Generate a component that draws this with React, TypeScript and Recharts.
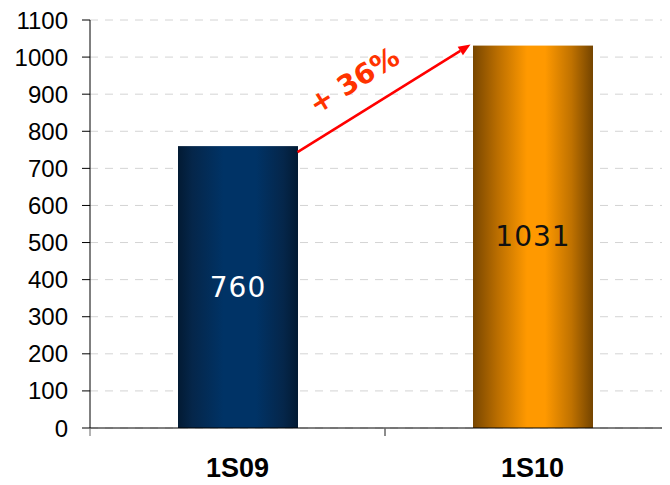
import React from 'react';
import {
  BarChart,
  Bar,
  XAxis,
  YAxis,
  CartesianGrid,
  LabelList,
  ReferenceLine,
} from 'recharts';

const categories = ['1S09', '1S10'];
const values = [760, 1031];
const yTicks = [0, 100, 200, 300, 400, 500, 600, 700, 800, 900, 1000, 1100];
const growthLabel = '+ 36%';

const data = categories.map((name, i) => ({name, value: values[i]}));

const barFills = ['url(#blueBar)', 'url(#orangeBar)'];
const labelFills = ['#ffffff', '#111111'];

const X_TICK_GAP = 32;

const BarShape = (props: any) => {
  const {x, y, width, height, index} = props;
  return <rect x={x} y={y} width={width} height={height} fill={barFills[index]} />;
};

const ValueLabel = (props: any) => {
  const {x, y, width, height, value, index} = props;
  return (
    <text
      x={x + width / 2}
      y={y + height / 2}
      textAnchor="middle"
      dominantBaseline="central"
      fill={labelFills[index]}
      fontSize={28}
      fontFamily="DejaVu Sans"
      style={{letterSpacing: 1}}
    >
      {value}
    </text>
  );
};

// category label plus tick marks on the band edges
const CategoryTick = (props: any) => {
  const {x, y, payload} = props;
  const half = payload && payload.offset ? payload.offset : 0;
  const axisY = y - X_TICK_GAP;
  return (
    <g>
      {half > 0 && (
        <>
          <line x1={x - half} y1={axisY} x2={x - half} y2={axisY + 8} stroke="#666" />
          <line x1={x + half} y1={axisY} x2={x + half} y2={axisY + 8} stroke="#666" />
        </>
      )}
      <text
        x={x}
        y={axisY + 49}
        textAnchor="middle"
        fill="#000"
        fontSize={27}
        fontWeight="bold"
        fontFamily="Liberation Sans"
      >
        {payload.value}
      </text>
    </g>
  );
};

// arrow drawn between the two bar tops, shifted to the bar edges
const GrowthArrow = (props: any) => {
  const {x1, y1, x2, y2} = props;
  if (x1 == null || x2 == null) return null;
  const sx = x1 + 60;
  const sy = y1 + 6;
  const ex = x2 - 62;
  const ey = y2 - 1;
  const ang = Math.atan2(ey - sy, ex - sx);
  const deg = (ang * 180) / Math.PI;
  const dx = Math.cos(ang);
  const dy = Math.sin(ang);
  const head = 12;
  const hw = 5;
  const bx = ex - dx * head;
  const by = ey - dy * head;
  const mx = (sx + ex) / 2;
  const my = (sy + ey) / 2;
  const tx = mx + dy * 31 - dx * 16;
  const ty = my - dx * 31 - dy * 16;
  return (
    <g>
      <line x1={sx} y1={sy} x2={bx} y2={by} stroke="#ff0000" strokeWidth={2.5} />
      <polygon
        points={`${ex},${ey} ${bx - dy * hw},${by + dx * hw} ${bx + dy * hw},${by - dx * hw}`}
        fill="#ff0000"
      />
      <text
        x={tx}
        y={ty}
        textAnchor="middle"
        dominantBaseline="central"
        fill="#ff3300"
        fontSize={28}
        fontWeight="bold"
        fontFamily="DejaVu Sans"
        transform={`rotate(${deg}, ${tx}, ${ty})`}
      >
        {growthLabel}
      </text>
    </g>
  );
};

export default function App() {
  return (
    <div style={{margin: -8, width: 670, height: 485, overflow: 'hidden', background: '#fff'}}>
      <BarChart
        width={690}
        height={485}
        data={data}
        margin={{top: 20, right: 10, left: 0, bottom: 0}}
      >
        <defs>
          <linearGradient id="blueBar" x1="0" y1="0" x2="1" y2="0">
            <stop offset="0%" stopColor="#021a33" />
            <stop offset="12%" stopColor="#05264a" />
            <stop offset="38%" stopColor="#003366" />
            <stop offset="65%" stopColor="#003366" />
            <stop offset="88%" stopColor="#05264a" />
            <stop offset="100%" stopColor="#021a33" />
          </linearGradient>
          <linearGradient id="orangeBar" x1="0" y1="0" x2="1" y2="0">
            <stop offset="0%" stopColor="#784600" />
            <stop offset="20%" stopColor="#b96d00" />
            <stop offset="45%" stopColor="#ff9900" />
            <stop offset="60%" stopColor="#ff9900" />
            <stop offset="82%" stopColor="#c07200" />
            <stop offset="100%" stopColor="#744400" />
          </linearGradient>
        </defs>
        <CartesianGrid vertical={false} stroke="#d4d4d4" strokeDasharray="8 7" />
        <XAxis
          dataKey="name"
          type="category"
          axisLine={{stroke: '#000'}}
          tickLine={false}
          tickSize={0}
          tickMargin={X_TICK_GAP}
          height={57}
          tick={CategoryTick}
        />
        <YAxis
          domain={[0, 1100]}
          ticks={yTicks}
          width={90}
          interval={0}
          axisLine={{stroke: '#000'}}
          tickLine={{stroke: '#000'}}
          tickSize={8}
          tickMargin={14}
          tick={{fill: '#000', fontSize: 24, fontFamily: 'Liberation Sans'}}
        />
        <Bar dataKey="value" barSize={120} shape={BarShape} isAnimationActive={false}>
          <LabelList dataKey="value" content={ValueLabel} />
        </Bar>
        <ReferenceLine
          segment={[
            {x: categories[0], y: values[0]},
            {x: categories[1], y: values[1]},
          ]}
          shape={GrowthArrow}
        />
      </BarChart>
    </div>
  );
}
